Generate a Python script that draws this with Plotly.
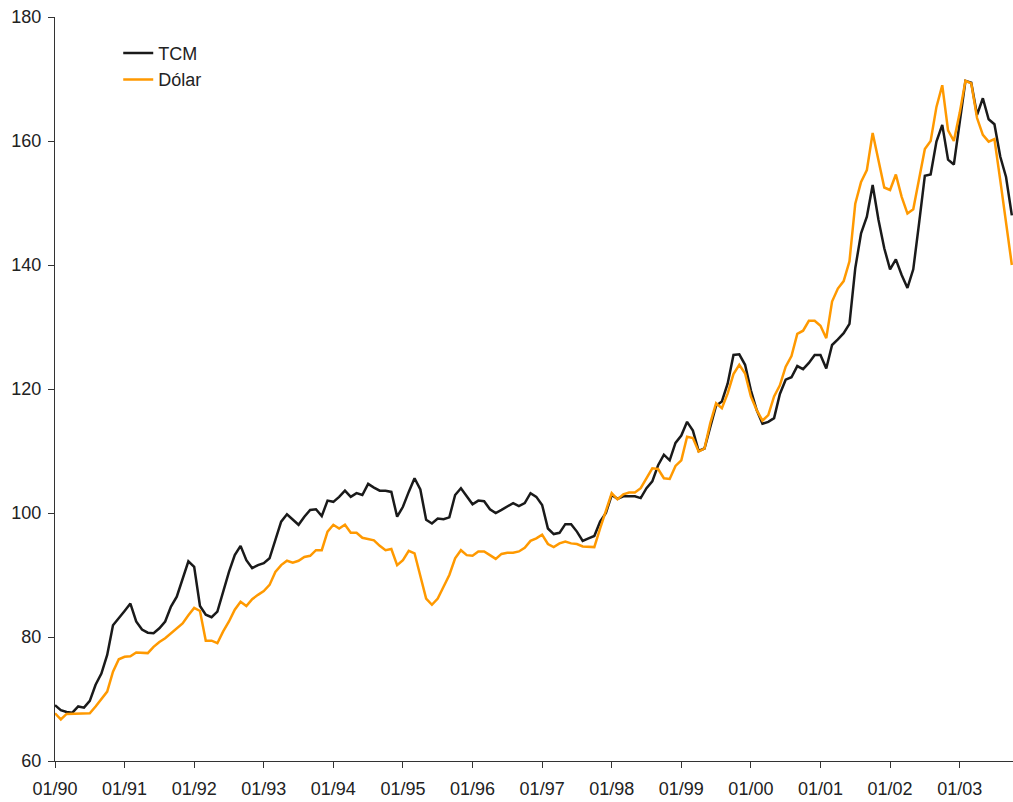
import plotly.graph_objects as go

months = list(range(166))
tick_positions = [0, 12, 24, 36, 48, 60, 72, 84, 96, 108, 120, 132, 144, 156]
tick_labels = ["01/90", "01/91", "01/92", "01/93", "01/94", "01/95", "01/96",
               "01/97", "01/98", "01/99", "01/00", "01/01", "01/02", "01/03"]

tcm = [69.0, 68.2, 67.9, 67.8, 68.8, 68.6, 69.7, 72.3, 74.1, 77.1, 81.9, 83.0,
       84.2, 85.4, 82.5, 81.2, 80.7, 80.6, 81.4, 82.5, 84.9, 86.5, 89.2, 92.2,
       91.3, 85.0, 83.6, 83.2, 84.1, 87.3, 90.5, 93.2, 94.7, 92.4, 91.1, 91.6,
       91.9, 92.7, 95.6, 98.6, 99.8, 99.0, 98.1, 99.4, 100.5, 100.6, 99.5, 102.0,
       101.8, 102.6, 103.6, 102.6, 103.2, 102.9, 104.7, 104.1, 103.6, 103.6, 103.4, 99.4,
       101.0, 103.4, 105.6, 103.8, 98.9, 98.3, 99.1, 99.0, 99.3, 102.9, 104.0, 102.7,
       101.4, 102.0, 101.9, 100.6, 100.0, 100.5, 101.0, 101.6, 101.1, 101.6, 103.2, 102.6,
       101.3, 97.5, 96.6, 96.8, 98.2, 98.2, 97.0, 95.5, 95.9, 96.3, 98.6, 100.0,
       102.9, 102.3, 102.7, 102.7, 102.7, 102.4, 104.0, 105.1, 107.7, 109.4, 108.5, 111.3,
       112.5, 114.7, 113.3, 110.0, 110.4, 113.9, 117.3, 118.0, 120.9, 125.5, 125.6, 123.9,
       119.8, 116.6, 114.4, 114.7, 115.3, 119.2, 121.5, 121.9, 123.7, 123.2, 124.2, 125.5,
       125.5, 123.3, 127.1, 128.0, 129.0, 130.5, 139.5, 145.1, 147.8, 152.9, 147.3, 142.7,
       139.3, 140.9, 138.4, 136.3, 139.3, 146.7, 154.4, 154.6, 159.9, 162.6, 157.0, 156.2,
       163.1, 169.7, 169.4, 164.2, 166.9, 163.5, 162.7, 157.5, 154.2, 148.0]

dolar = [67.7, 66.7, 67.6, 67.6, 67.7, 67.7, 67.7, 68.8, 70.1, 71.2, 74.4, 76.4,
         76.8, 76.9, 77.5, 77.5, 77.4, 78.4, 79.2, 79.8, 80.6, 81.4, 82.2, 83.5,
         84.7, 84.2, 79.4, 79.4, 79.0, 80.9, 82.5, 84.4, 85.7, 85.0, 86.1, 86.8,
         87.4, 88.4, 90.5, 91.6, 92.3, 92.0, 92.3, 92.9, 93.1, 94.0, 94.0, 97.0,
         98.1, 97.5, 98.1, 96.8, 96.8, 96.0, 95.8, 95.6, 94.7, 94.0, 94.2, 91.6,
         92.4, 93.9, 93.5, 90.0, 86.2, 85.2, 86.2, 88.1, 90.0, 92.7, 94.0, 93.2,
         93.1, 93.8, 93.8, 93.2, 92.6, 93.4, 93.6, 93.6, 93.8, 94.4, 95.5, 95.9,
         96.5, 95.0, 94.5, 95.1, 95.4, 95.1, 95.0, 94.6, 94.5, 94.5, 97.5, 100.5,
         103.2, 102.2, 103.0, 103.3, 103.3, 104.0, 105.6, 107.2, 107.1, 105.6, 105.5, 107.6,
         108.5, 112.3, 112.1, 109.9, 110.4, 114.5, 117.7, 116.9, 119.3, 122.4, 123.9, 122.5,
         118.8, 116.6, 114.9, 115.8, 118.8, 120.6, 123.6, 125.3, 128.9, 129.4, 131.0, 131.0,
         130.2, 128.2, 134.1, 136.2, 137.4, 140.6, 149.9, 153.4, 155.3, 161.3, 156.9, 152.5,
         152.1, 154.6, 151.0, 148.3, 149.0, 153.7, 158.7, 160.0, 165.5, 169.0, 161.7, 160.0,
         164.5, 169.7, 169.3, 163.7, 161.0, 159.9, 160.3, 153.7, 146.7, 140.0]

y_ticks = [60, 80, 100, 120, 140, 160, 180]

font_family = "Liberation Sans, Arial, sans-serif"

fig = go.Figure()
fig.add_trace(go.Scatter(x=months, y=tcm, mode="lines", name="TCM",
                         line=dict(color="#1a1a1a", width=2.5)))
fig.add_trace(go.Scatter(x=months, y=dolar, mode="lines", name="Dólar",
                         line=dict(color="#ff9900", width=2.5)))

fig.update_layout(
    width=1013, height=802,
    margin=dict(l=55, r=0, t=17, b=41, autoexpand=False),
    paper_bgcolor="white", plot_bgcolor="white",
    font=dict(family=font_family, size=18, color="#222222"),
    showlegend=True,
    legend=dict(x=0.066, y=0.976, xanchor="left", yanchor="top",
                bgcolor="rgba(0,0,0,0)", font=dict(size=18, color="#222222"),
                itemwidth=30, tracegroupgap=2),
    xaxis=dict(range=[0, 165.2], tickmode="array", tickvals=tick_positions,
               ticktext=tick_labels, showgrid=False, zeroline=False,
               showline=True, linecolor="#333333", linewidth=1,
               ticks="outside", ticklen=6, tickcolor="#333333",
               ticklabelstandoff=5,
               tickfont=dict(size=18, color="#222222")),
    yaxis=dict(range=[60, 180], tickmode="array", tickvals=y_ticks,
               showgrid=False, zeroline=False,
               showline=True, linecolor="#333333", linewidth=1,
               ticks="outside", ticklen=6, tickcolor="#333333",
               ticklabelstandoff=3,
               tickfont=dict(size=18, color="#222222")),
)

fig.write_html("out.html", config={"displayModeBar": False},
               post_script="document.body.style.margin='0';document.body.style.overflow='hidden';")
